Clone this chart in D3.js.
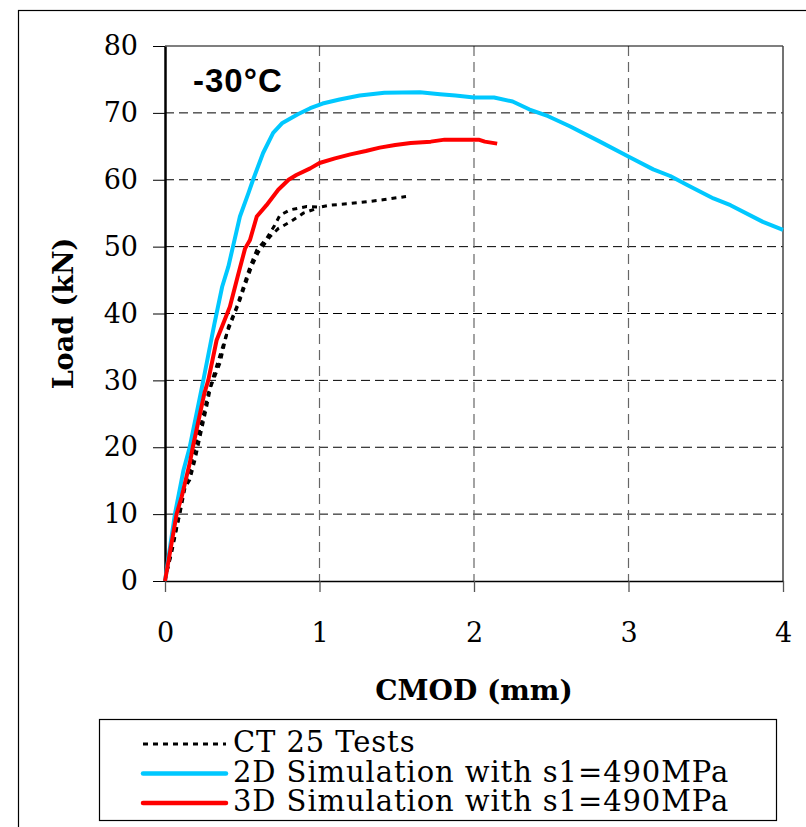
<!DOCTYPE html>
<html>
<head>
<meta charset="utf-8">
<script src="https://cdn.jsdelivr.net/npm/d3@7"></script>
<style>
  body { margin: 0; background: #fff; }
  svg { display: block; }
  .tick text { font-family: "DejaVu Serif", serif; font-size: 27px; fill: #000; }
</style>
</head>
<body>
<div id="chart"></div>
<script>
// Load vs CMOD at -30°C: tests vs 2D / 3D simulation

const xTicks = [0, 1, 2, 3, 4];
const yTicks = [0, 10, 20, 30, 40, 50, 60, 70, 80];

// CT 25 tests (two specimens, dotted)
const test1Cmod = [0, 0.02, 0.05, 0.097, 0.13, 0.17, 0.2, 0.24, 0.28, 0.356, 0.41, 0.464, 0.55, 0.594, 0.657, 0.71, 0.744, 0.81, 0.917, 1.0, 1.07, 1.18, 1.305, 1.41, 1.56];
const test1Load = [0, 2.1, 5.5, 10.1, 14, 17.5, 20.5, 24, 28.1, 32.6, 38, 41, 47, 49.5, 51.2, 53.2, 54.7, 55.5, 56.0, 55.9, 56.2, 56.4, 56.7, 57.0, 57.5];
const test2Cmod = [0, 0.01, 0.043, 0.086, 0.12, 0.16, 0.194, 0.227, 0.27, 0.30, 0.40, 0.485, 0.53, 0.56, 0.605, 0.68, 0.733, 0.81, 0.895, 0.98];
const test2Load = [0, 1.2, 4.2, 9.1, 13.6, 15.1, 18.1, 21.6, 26.1, 29.6, 37, 42, 45, 47, 49.2, 51.5, 52.7, 53.7, 55.0, 55.7];

// 2D simulation (cyan)
const sim2dCmod = [0, 0.065, 0.12, 0.16, 0.248, 0.32, 0.37, 0.41, 0.44, 0.485, 0.54, 0.57, 0.635, 0.70, 0.76, 0.86, 0.94, 1.02, 1.13, 1.26, 1.42, 1.65, 1.78, 1.88, 2.0, 2.13, 2.25, 2.36, 2.48, 2.62, 2.815, 3.005, 3.16, 3.27, 3.38, 3.55, 3.66, 3.87, 4.0];
const sim2dLoad = [0, 10.1, 16.6, 20, 30, 38.5, 44, 47, 50, 54.5, 58, 60, 64, 67, 68.5, 69.8, 70.7, 71.4, 72, 72.6, 73, 73.1, 72.8, 72.6, 72.3, 72.3, 71.7, 70.5, 69.5, 68, 65.7, 63.4, 61.55, 60.56, 59.2, 57.2, 56.2, 53.7, 52.5];

// 3D simulation (red)
const sim3dCmod = [0, 0.076, 0.108, 0.16, 0.18, 0.255, 0.28, 0.334, 0.42, 0.47, 0.518, 0.55, 0.594, 0.657, 0.733, 0.80, 0.85, 0.94, 1.0, 1.1, 1.2, 1.3, 1.39, 1.49, 1.59, 1.72, 1.81, 2.03, 2.07, 2.15];
const sim3dLoad = [0, 10.1, 12.6, 17.6, 20, 28.1, 30, 36, 41, 45.5, 49.7, 51, 54.5, 56.2, 58.5, 60, 60.7, 61.7, 62.5, 63.2, 63.8, 64.3, 64.8, 65.2, 65.5, 65.7, 66, 66, 65.7, 65.4];

const legendLabels = ["CT 25 Tests", "2D Simulation with s1=490MPa", "3D Simulation with s1=490MPa"];

const W = 806, H = 827;
const plot = { left: 165, right: 783, top: 46, bottom: 581 };

const svg = d3.select("#chart").append("svg")
  .attr("width", W)
  .attr("height", H);

// outer frame (runs off the right / bottom edge)
svg.append("rect")
  .attr("x", 18.5).attr("y", 10.5)
  .attr("width", 900).attr("height", 900)
  .attr("fill", "none").attr("stroke", "#000").attr("stroke-width", 1.2);

const x = d3.scaleLinear().domain([0, 4]).range([plot.left, plot.right]);
const y = d3.scaleLinear().domain([0, 80]).range([plot.bottom, plot.top]);

// grid
svg.append("g").selectAll("line")
  .data(yTicks.filter(d => d > 0 && d < 80))
  .enter().append("line")
  .attr("x1", plot.left).attr("x2", plot.right)
  .attr("y1", d => y(d)).attr("y2", d => y(d))
  .attr("stroke", "#000").attr("stroke-width", 1)
  .attr("stroke-dasharray", "9,5");

svg.append("g").selectAll("line")
  .data(xTicks.filter(d => d > 0 && d < 4))
  .enter().append("line")
  .attr("x1", d => x(d)).attr("x2", d => x(d))
  .attr("y1", plot.top).attr("y2", plot.bottom)
  .attr("stroke", "#666").attr("stroke-width", 1.2)
  .attr("stroke-dasharray", "10,6");

// plot frame top + right
svg.append("line")
  .attr("x1", plot.left).attr("x2", plot.right)
  .attr("y1", plot.top).attr("y2", plot.top)
  .attr("stroke", "#000").attr("stroke-width", 1.2);
svg.append("line")
  .attr("x1", plot.right).attr("x2", plot.right)
  .attr("y1", plot.top).attr("y2", plot.bottom)
  .attr("stroke", "#444").attr("stroke-width", 1.5);

// axes
const gY = svg.append("g")
  .attr("transform", `translate(${plot.left},0)`)
  .call(d3.axisLeft(y).tickValues(yTicks).tickSize(12).tickPadding(15).tickSizeOuter(0));
gY.select(".domain").attr("stroke-width", 2.5);

const gX = svg.append("g")
  .attr("transform", `translate(0,${plot.bottom})`)
  .call(d3.axisBottom(x).tickValues(xTicks).tickSize(11).tickPadding(31).tickSizeOuter(0).tickFormat(d3.format("d")));
gX.select(".domain").attr("stroke-width", 1.5);
gX.selectAll(".tick line").attr("stroke", "#555").attr("stroke-width", 1.3);

// series
const line = d3.line().x(d => x(d[0])).y(d => y(d[1]));
const zip = (a, b) => a.map((v, i) => [v, b[i]]);

const dotted = { stroke: "#000", width: 3, dash: "5,5" };

[[test1Cmod, test1Load], [test2Cmod, test2Load]].forEach(([cx, cy]) => {
  svg.append("path")
    .datum(zip(cx, cy))
    .attr("d", line)
    .attr("fill", "none")
    .attr("stroke", dotted.stroke)
    .attr("stroke-width", dotted.width)
    .attr("stroke-dasharray", dotted.dash);
});

svg.append("path")
  .datum(zip(sim2dCmod, sim2dLoad))
  .attr("d", line)
  .attr("fill", "none")
  .attr("stroke", "#00c8ff")
  .attr("stroke-width", 4)
  .attr("stroke-linejoin", "round");

svg.append("path")
  .datum(zip(sim3dCmod, sim3dLoad))
  .attr("d", line)
  .attr("fill", "none")
  .attr("stroke", "#ff0000")
  .attr("stroke-width", 4)
  .attr("stroke-linejoin", "round");

// annotation
svg.append("text")
  .attr("x", 193).attr("y", 92)
  .style("font-family", "'Liberation Sans', Arial, sans-serif")
  .style("font-weight", "bold")
  .style("font-size", "33px")
  .style("letter-spacing", "1px")
  .text("-30°C");

// axis titles
svg.append("text")
  .attr("transform", `translate(73,${(plot.top + plot.bottom) / 2}) rotate(-90)`)
  .attr("text-anchor", "middle")
  .style("font-family", "'DejaVu Serif', serif")
  .style("font-weight", "bold")
  .style("font-size", "27px")
  .text("Load (kN)");

svg.append("text")
  .attr("x", (plot.left + plot.right) / 2).attr("y", 700)
  .attr("text-anchor", "middle")
  .style("font-family", "'DejaVu Serif', serif")
  .style("font-weight", "bold")
  .style("font-size", "28px")
  .text("CMOD (mm)");

// legend
const legend = svg.append("g");
legend.append("rect")
  .attr("x", 99.5).attr("y", 719.5)
  .attr("width", 677).attr("height", 101)
  .attr("fill", "#fff").attr("stroke", "#000").attr("stroke-width", 1.2);

const legendStyles = [
  { color: "#000", width: 3, dash: "5,5" },
  { color: "#00c8ff", width: 4.5, dash: null },
  { color: "#ff0000", width: 4.5, dash: null }
];

legendLabels.forEach((label, i) => {
  const cy = 744 + i * 29.5;
  const st = legendStyles[i];
  legend.append("line")
    .attr("x1", 143).attr("x2", 226)
    .attr("y1", cy).attr("y2", cy)
    .attr("stroke", st.color)
    .attr("stroke-width", st.width)
    .attr("stroke-linecap", st.dash ? "butt" : "round")
    .attr("stroke-dasharray", st.dash);
  legend.append("text")
    .attr("x", 233).attr("y", cy + 8)
    .style("font-family", "'DejaVu Serif', serif")
    .style("font-size", "29px")
    .style("letter-spacing", "0.9px")
    .text(label);
});
</script>
</body>
</html>
